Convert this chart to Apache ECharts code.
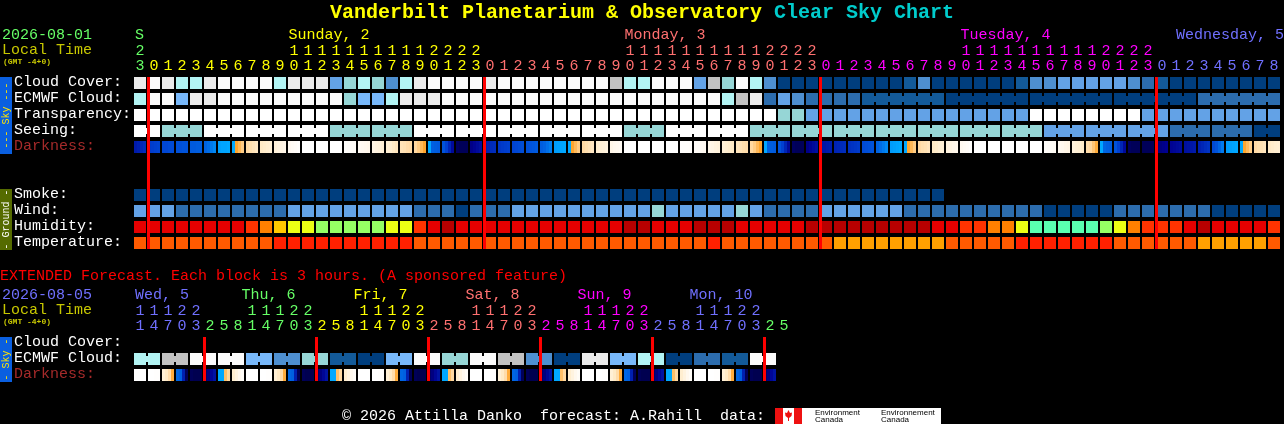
<!DOCTYPE html>
<html><head><meta charset="utf-8">
<style>html,body{margin:0;padding:0;background:#000;overflow:hidden}#c{width:1284px;height:424px}</style>
<script src="https://cdn.jsdelivr.net/npm/echarts@6/dist/echarts.min.js"></script>
</head><body><div id="c"></div>
<script>
// ---------- data ----------
const mainRows = ['Cloud Cover:','ECMWF Cloud:','Transparency:','Seeing:','Darkness:','','','Smoke:','Wind:','Humidity:','Temperature:'];
const extRows = ['Cloud Cover:','ECMWF Cloud:','Darkness:'];
const hourUnits = '3012345678901234567890123012345678901234567890123012345678901234567890123012345678'.split('');
const hourTens = ('2'+'          11111111112222'+'          11111111112222'+'          11111111112222'+'         ').split('').map(s=>s.trim());
const extUnits = ('14703'+'25814703'+'25814703'+'25814703'+'25814703'+'25814703'+'25').split('');
const extTens = ('11122'+'   11122'+'   11122'+'   11122'+'   11122'+'   11122'+'  ').split('').map(s=>s.trim());
const dayLabels = [[0,'S',0],[11,'Sunday, 2',1],[35,'Monday, 3',2],[59,'Tuesday, 4',3],[75,'Wednesday, 5',4]];
const extDayLabels = [[0,'Wed, 5',4],[8,'Thu, 6',0],[16,'Fri, 7',1],[24,'Sat, 8',2],[32,'Sun, 9',3],[40,'Mon, 10',4]];
const hourDays = [0].concat(Array(24).fill(1),Array(24).fill(2),Array(24).fill(3),Array(9).fill(4));
const extDays = [4,4,4,4,4].concat(Array(8).fill(0),Array(8).fill(1),Array(8).fill(2),Array(8).fill(3),Array(8).fill(4),[0,0]);
const midnightCols = [1,25,49,73];
const extMidnightCols = [5,13,21,29,37,45];

const cloudCover = [9,10,9,7,7,9,10,10,10,10, 7,9,9,9,4,6,7,6,3,7, 9,10,10,10,10,9,10,10,10,10,
  10,10,10,10,8,7,7,10,10,10, 4,8,6,10,7,3,0,0,0,0, 0,0,0,0,0,1,3,0,0,0, 0,0,0,1,3,3,4,4,4,4, 4,3,2,1,0,0,0,0,0,0,0,0];
const ecmwfHourly = [7,10,10,5,9,9,10,10,10,10, 10,10,10,10,10,6,5,5,7,9, 9,9,10,10,10,10,10,10,10,10,
  10,10,10,10,10,10,10,10,10,10, 10,10,7,8,9,2,4,3,2,2, 2,2];
const ecmwfSixHourly = [1,0,0,0,2];
const transparency = [11,11,11,11,11,11,11,11,11,11,11,11,11,11,11,11,11,11,11,11,11,11,11,11,11,11,11,11,11,11,
  11,11,11,11,11,11,11,11,11,11,11,11,11,11,11,11, 6,6, 4,4,4,4,4,4,4,4,4,4,4,4,4,4,4,4, 11,11,11,11,11,11,11,11, 4,4,4,4,4,4,4,4,4,4];
const seeingBlocks = [11,6,11,11,11,6,6,11,11,11,11,11,6,11,11,6,6,6,6,6,6,6,4,4,4,2,2,0];
const smoke = Array(58).fill(0);
const wind = [4,4,4,2,2,2,2,2,2,2,2,4,4,4,4,4,4,4,4,4, 2,2,2,0,2,2,2,4,4,4,4,4,4,4,4,4,4,6,4,4,4,4,4,6,4,2,2,2,2,
  4,4,4,4,4,4,2,2,2,2,2,2,2,2,2,2,0,0,0,0,0,2,2,2,2,2,2,2,0,0,0,0,0];
const humidity = [1,1,1,1,1,1,1,1,2,3,4,5,5,6,6,6,6,6,5,5,2,1,0,1,1,1,1,1,1,1,1,1,1,1,1,0,0,1,1,1,0,0,0,1,1,1,1,1,
  0,0,0,0,0,0,0,0,0,1,1,2,2,3,3,5,7,7,7,7,7,6,5,3,2,2,2,1,0,1,1,1,1,2];
const temperature = [1,1,1,1,1,1,1,1,1,1,0,0,0,0,0,0,0,0,0,0,1,1,1,1,1,1,1,1,1,1,1,1,1,1,1,1,1,1,1,1,1,0,
  1,1,1,1,1,1,1,1,2,2,2,2,2,2,2,2,1,1,1,1,1,0,0,0,0,0,0,0,1,1,1,1,1,1,2,2,2,2,2,1];
const darkness = [
 [18,20,22,24],[28,29,30,31],[32,32,33,33],[35,35,36,36],[38,38,39,39],[41,44,48,52],[58,59,59,60],[60,62,65,68],
 [71,73,75,77],[78,79,80,81],[83,85,86,88],[92,94,96,98],[100,100,100,100],[100,100,100,100],[100,100,100,100],[98,97,96,95],
 [93,92,90,89],[87,85,84,82],[81,80,78,76],[75,74,72,71],[70,68,65,62],[60,40,39,38],[36,30,22,13],[4,3,3,3],
 [9,11,13,15],[19,21,23,24],[27,28,29,30],[31,32,33,34],[35,36,37,38],[39,41,45,49],[57,58,59,60],[60,62,65,68],
 [71,73,75,77],[80,82,83,85],[88,90,91,93],[100,100,100,100],[100,100,100,100],[100,100,100,100],[100,100,100,100],[99,98,98,97],
 [96,95,93,92],[88,87,85,84],[82,80,79,78],[76,75,73,72],[70,68,65,62],[60,40,39,38],[36,30,22,13],[4,3,3,3],
 [9,11,13,15],[16,17,18,19],[21,22,23,24],[25,26,27,28],[33,34,35,36],[41,44,48,52],[57,58,59,60],[60,62,65,68],
 [71,73,74,76],[78,79,81,82],[85,86,88,89],[92,94,96,98],[100,100,100,100],[100,100,100,100],[100,100,100,100],[100,100,100,100],
 [100,100,100,100],[97,96,95,94],[91,90,88,87],[84,82,81,79],[72,70,67,63],[60,42,40,39],[36,30,22,13],[4,3,3,3],
 [3,3,3,3],[7,8,9,10],[11,12,13,14],[15,16,17,18],[20,22,24,26],[33,36,42,48],[57,58,59,60],[60,62,65,68],
 [71,73,74,76],[78,79,80,81]];
const extEcmwfBlocks = [7,8,10,10,5,3,6,1,0,5,10,6,10,8,3,0,9,5,7,0,2,1,10];
const extDarkness = [
 [100,100,100,100],[100,100,99,99],[82,78,72,63],[42,40,20,3],[3,2,2,2],[5,8,12,16],[60,60,66,70],[80,85,90,95],
 [100,100,100,100],[100,100,99,99],[82,78,72,63],[42,40,20,3],[3,2,2,2],[5,8,12,16],[60,60,66,70],[80,85,90,95],
 [100,100,100,100],[100,100,99,99],[82,78,72,63],[42,40,20,3],[3,2,2,2],[5,8,12,16],[60,60,66,70],[80,85,90,95],
 [100,100,100,100],[100,100,99,99],[82,78,72,63],[42,40,20,3],[3,2,2,2],[5,8,12,16],[60,60,66,70],[80,85,90,95],
 [100,100,100,100],[100,100,99,99],[82,78,72,63],[42,40,20,3],[3,2,2,2],[5,8,12,16],[60,60,66,70],[80,85,90,95],
 [100,100,100,100],[100,100,99,99],[82,78,72,63],[42,40,20,3],[3,2,2,2],[5,8,12,16]];

// ---------- styles ----------
const FONT = '"Liberation Mono","DejaVu Sans Mono",monospace';
const dayColors = ['#66ff66','#ffff00','#ff7070','#ff00ff','#7070ff'];
const cloudPalette = ['#003e7e','#135a99','#2c6cad','#4e8fd0','#63a2e6','#78b8fa','#96d6d6','#b2f4f4','#c2c2c2','#ebebeb','#fbfbfb','#ffffff'];
const humidityPalette = ['#b80000','#e60000','#ff3300','#ff8000','#ffc800','#ecff14','#96ff64','#5affb0'];
const temperaturePalette = ['#ff2000','#ff5a00','#ffa000'];
const darkStops = [[0,'#000040'],[10,'#000090'],[20,'#0020b0'],[30,'#0040d0'],[40,'#0060e0'],[50,'#0080f0'],[60,'#00a8ff'],
  [61,'#ffa020'],[70,'#ffd8a0'],[80,'#ffeed0'],[90,'#fff8ee'],[100,'#ffffff']];
function darkColor(v){
  for(let i=1;i<darkStops.length;i++){
    if(v<=darkStops[i][0]){
      const [a,ca]=darkStops[i-1],[b,cb]=darkStops[i],t=(v-a)/(b-a);
      const ch=(c,p)=>parseInt(c.substr(p,2),16);
      return 'rgb('+[1,3,5].map(p=>Math.round(ch(ca,p)+(ch(cb,p)-ch(ca,p))*t)).join(',')+')';
    }
  }
  return '#fff';
}

// ---------- helpers ----------
function expand(blocks,lengths){ // per-column values plus "joined to next column" flags
  const vals=[],joins=[];
  blocks.forEach((v,i)=>{for(let n=0;n<lengths[i];n++){vals.push(v);joins.push(n<lengths[i]-1?1:0);}});
  return {vals,joins};
}
function cellSeries(axis,row,vals,palette,joins){
  return {type:'custom',xAxisIndex:axis.x,yAxisIndex:axis.y,encode:{x:0,y:1},silent:true,z:2,
    data:vals.map((v,c)=>[c,row,v,joins?joins[c]:0]),
    renderItem(params,api){
      const p=api.coord([api.value(0),api.value(1)]),s=api.size([1,1]);
      const l=Math.round(p[0]-s[0]/2),t=Math.round(p[1]-s[1]/2),col=palette[api.value(2)];
      const ch=[{type:'rect',shape:{x:l,y:t,width:s[0]-2,height:s[1]-4},style:{fill:col}}];
      if(api.value(3))ch.push({type:'rect',shape:{x:l+s[0]-2,y:t+3,width:2,height:s[1]-10},style:{fill:col}});
      return {type:'group',children:ch};
    }};
}
function darkSeries(axis,row,tuples){
  return {type:'custom',xAxisIndex:axis.x,yAxisIndex:axis.y,encode:{x:0,y:1},silent:true,z:2,
    data:tuples.map((t,c)=>[c,row].concat(t)),
    renderItem(params,api){
      const p=api.coord([api.value(0),api.value(1)]),s=api.size([1,1]);
      const l=Math.round(p[0]-s[0]/2),t=Math.round(p[1]-s[1]/2),w=(s[0]-2)/4;
      return {type:'group',children:[0,1,2,3].map(i=>({type:'rect',
        shape:{x:l+i*w,y:t,width:w,height:s[1]-4},style:{fill:darkColor(api.value(2+i))}}))};
    }};
}
function redSeries(axis,cols,lastRow){
  return {type:'custom',xAxisIndex:axis.x,yAxisIndex:axis.y,encode:{x:0,y:1},silent:true,z:5,
    data:cols.map(c=>[c,0]),
    renderItem(params,api){
      const c=api.value(0),a=api.coord([c,0]),b=api.coord([c,lastRow]),s=api.size([1,1]);
      const x=Math.round(a[0]-s[0]/2)-1,t=Math.round(a[1]-s[1]/2),e=Math.round(b[1]-s[1]/2)+s[1]-4;
      return {type:'rect',shape:{x:x,y:t,width:3,height:e-t},style:{fill:'#ff0000'}};
    }};
}
function daySeries(axis,labels,nudge){
  return {type:'custom',xAxisIndex:axis.x,yAxisIndex:axis.y,encode:{x:0,y:1},silent:true,z:3,
    data:labels.map((d,i)=>[d[0],0,i]),
    renderItem(params,api){
      const d=labels[api.value(2)],p=api.coord([d[0],0]),s=api.size([1,1]);
      return {type:'text',style:{x:p[0]-s[0]/2+nudge[api.value(2)],y:p[1]-s[1]/2-42,text:d[1],fill:dayColors[d[2]],
        font:'15px '+FONT,align:'left',verticalAlign:'middle'}};
    }};
}
function hourAxis(grid,offset,labels,days){
  return {type:'category',gridIndex:grid,position:'top',offset:offset,
    data:labels.map((v,i)=>({value:v,textStyle:{color:dayColors[days[i]]}})),
    axisLine:{show:false},axisTick:{show:false},splitLine:{show:false},
    axisLabel:{interval:0,margin:3,fontFamily:FONT,fontSize:15,lineHeight:15,padding:[0,2,0,0]}};
}
function rowAxis(grid,rows){
  return {type:'category',gridIndex:grid,inverse:true,
    data:rows.map(r=>({value:r,textStyle:{color:r==='Darkness:'?'#a52a2a':'#ffffff',align:'left',verticalAlign:'bottom'}})),
    axisLine:{show:false},axisTick:{show:false},splitLine:{show:false},
    axisLabel:{interval:0,margin:120,fontFamily:FONT,fontSize:15,lineHeight:6}};
}

// ---------- build ----------
const MAIN={x:0,y:0},EXT={x:2,y:1};
const ecmwfMain=expand(ecmwfHourly.concat(ecmwfSixHourly),ecmwfHourly.map(()=>1).concat(ecmwfSixHourly.map(()=>6)));
const seeingExp=expand(seeingBlocks,seeingBlocks.map((_,i)=>(i===0||i===seeingBlocks.length-1)?2:3));
const extEcmwf=expand(extEcmwfBlocks,extEcmwfBlocks.map(()=>2));

function sideBar(y,h,fill,txt,color,cy){return [
  {type:'rect',z:10,shape:{x:0,y:y,width:12,height:h},style:{fill:fill},silent:true},
  {type:'text',z:11,x:6,y:cy,rotation:Math.PI/2,style:{text:txt,fill:color,font:'10px '+FONT,align:'center',verticalAlign:'middle'},silent:true}
];}
function note(x,y,t,color,font){return {type:'text',z:12,x:x,y:y,style:{text:t,fill:color,font:font||('15px '+FONT),align:'left',verticalAlign:'middle'},silent:true};}

const graphics=[].concat(
  sideBar(77,77,'#0a5fe0','--- Sky ---','#ffe600',115.5),
  sideBar(189,61,'#556b00','- Ground -','#ffffff',219.5),
  sideBar(337,45,'#0a5fe0','- Sky -','#ffe600',359.5),
  [
   note(2,35,'2026-08-01',dayColors[0]),
   note(2,50,'Local Time','#c8c800'),
   note(3,62,'(GMT -4+0)','#c8c800','bold 8px '+FONT),
   note(0,276,'EXTENDED Forecast. Each block is 3 hours. (A sponsored feature)','#ff0000'),
   note(2,295,'2026-08-05',dayColors[4]),
   note(2,310,'Local Time','#c8c800'),
   note(3,322,'(GMT -4+0)','#c8c800','bold 8px '+FONT),
   note(342,416,'\u00a9 2026 Attilla Danko  forecast: A.Rahill  data:','#ffffff'),
   {type:'rect',z:10,shape:{x:775,y:408,width:166,height:16},style:{fill:'#ffffff'},silent:true},
   {type:'rect',z:11,shape:{x:775,y:408,width:8,height:16},style:{fill:'#ee1111'},silent:true},
   {type:'rect',z:11,shape:{x:794,y:408,width:8,height:16},style:{fill:'#ee1111'},silent:true},
   {type:'polygon',z:11,shape:{points:[[788.5,410],[790,413],[792,412.5],[791.5,416],[789,418],[789,421],[788,421],[788,418],[785.5,416],[785,412.5],[787,413]]},style:{fill:'#ee1111'},silent:true},
   note(815,412.5,'Environment','#000000','8px "Liberation Sans"'),
   note(815,420,'Canada','#000000','8px "Liberation Sans"'),
   note(881,412.5,'Environnement','#000000','8px "Liberation Sans"'),
   note(881,420,'Canada','#000000','8px "Liberation Sans"')
  ]);

const chart=echarts.init(document.getElementById('c'),null,{renderer:'canvas',width:1284,height:424});
chart.setOption({
  animation:false,backgroundColor:'#000000',
  title:{left:330,top:3,padding:0,
    text:'{a|Vanderbilt Planetarium & Observatory }{b|Clear Sky Chart}',
    textStyle:{rich:{
      a:{color:'#ffff00',fontFamily:FONT,fontWeight:'bold',fontSize:20},
      b:{color:'#00cccc',fontFamily:FONT,fontWeight:'bold',fontSize:20}}}},
  grid:[{left:134,top:77,width:1148,height:176,outerBoundsMode:'none'},{left:134,top:337,width:658,height:48,outerBoundsMode:'none'}],
  xAxis:[hourAxis(0,0,hourUnits,hourDays),hourAxis(0,15,hourTens,hourDays),hourAxis(1,0,extUnits,extDays),hourAxis(1,15,extTens,extDays)],
  yAxis:[rowAxis(0,mainRows),rowAxis(1,extRows)],
  series:[
    cellSeries(MAIN,0,cloudCover,cloudPalette),
    cellSeries(MAIN,1,ecmwfMain.vals,cloudPalette,ecmwfMain.joins),
    cellSeries(MAIN,2,transparency,cloudPalette),
    cellSeries(MAIN,3,seeingExp.vals,cloudPalette,seeingExp.joins),
    darkSeries(MAIN,4,darkness),
    cellSeries(MAIN,7,smoke,cloudPalette),
    cellSeries(MAIN,8,wind,cloudPalette),
    cellSeries(MAIN,9,humidity,humidityPalette),
    cellSeries(MAIN,10,temperature,temperaturePalette),
    redSeries(MAIN,midnightCols,10),
    daySeries(MAIN,dayLabels,[1,0.5,0.5,0.5,-8]),
    cellSeries(EXT,1,extEcmwf.vals,cloudPalette,extEcmwf.joins),
    darkSeries(EXT,2,extDarkness),
    redSeries(EXT,extMidnightCols,2),
    daySeries(EXT,extDayLabels,[1,-4.5,-4.5,-4.5,-4.5,-4.5])
  ],
  graphic:{elements:graphics}
});
</script></body></html>
